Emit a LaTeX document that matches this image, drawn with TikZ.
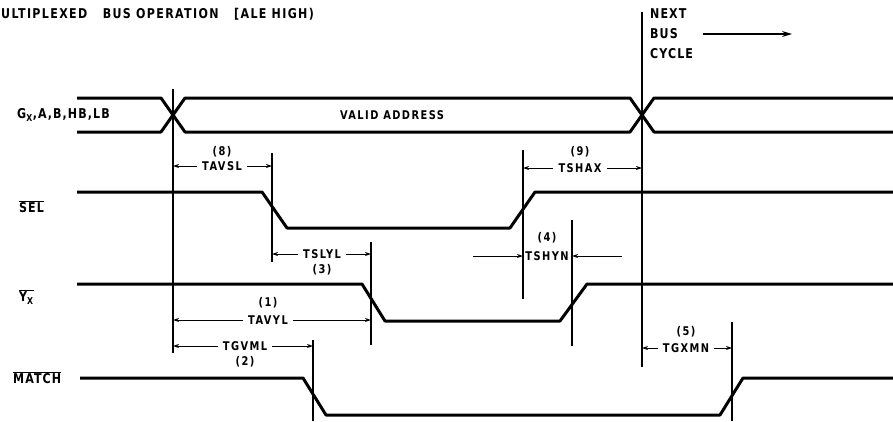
\documentclass[tikz,border=0pt]{standalone}
\usepackage{fontspec}
\setmainfont{DejaVu Sans}[FakeStretch=0.82]
\usetikzlibrary{arrows.meta}
\tikzset{
  sig/.style={line width=3pt, line join=round},
  vline/.style={line width=1.6pt},
  dim/.style={line width=0.9pt, -{Stealth[length=6pt,width=4pt]}},
  lbl/.style={font=\bfseries\fontsize{13.5}{14}\selectfont\addfontfeature{LetterSpace=8}, inner sep=1pt},
  sml/.style={font=\bfseries\fontsize{12}{13}\selectfont\addfontfeature{LetterSpace=12}, inner sep=1pt},
  big/.style={font=\bfseries\fontsize{13.5}{14}\selectfont\addfontfeature{LetterSpace=10}, inner sep=0pt}
}
\begin{document}
\begin{tikzpicture}[x=1pt,y=-1pt]
\useasboundingbox (0,0) rectangle (893,421);
% title
\node[big, anchor=west] (title) at (1,14) {ULTIPLEXED\ \ \ BUS OPERATION\ \ \ [ALE HIGH)};
% next bus cycle
\node[lbl, anchor=west] (nxt) at (649,14) {NEXT};
\node[lbl, anchor=west] (bus) at (649,34) {BUS};
\node[lbl, anchor=west] (cyc) at (649,54) {CYCLE};
\coordinate (arrS) at (703,34);
\coordinate (arrE) at (792,34);
\draw[line width=1.2pt, -{Stealth[length=10pt,width=6pt]}] (arrS) -- (arrE);
% signal labels
\node[lbl, anchor=west] (gx) at (16,115) {G\textsubscript{X},A,B,HB,LB};
\node[lbl, anchor=west] (sel) at (18,207) {$\overline{\mbox{SEL}}$};
\node[lbl, anchor=west] (yx) at (18,297) {$\overline{\mbox{Y\textsubscript{X}}}$};
\node[lbl, anchor=west] (match) at (12,378) {$\overline{\mbox{MATCH}}$};
\node[sml] (valid) at (392,115) {VALID ADDRESS};
% waveforms
\draw[sig] (77,98)--(161,98)--(185,132)--(630,132)--(654,98)--(893,98);
\draw[sig] (77,132)--(161,132)--(185,98)--(630,98)--(654,132)--(893,132);
\draw[sig] (77,192)--(262,192)--(287,228)--(510,228)--(535,192)--(893,192);
\draw[sig] (77,284)--(362,284)--(385,321)--(560,321)--(587,284)--(893,284);
\draw[sig] (80,378)--(303,378)--(326,415)--(720,415)--(743,378)--(893,378);
% vertical reference lines
\coordinate (v1t) at (173,89);  \coordinate (v1b) at (173,353);
\coordinate (v2t) at (272,153); \coordinate (v2b) at (272,262);
\coordinate (v3t) at (371,242); \coordinate (v3b) at (371,345);
\coordinate (v4t) at (523,150); \coordinate (v4b) at (523,299);
\coordinate (v5t) at (572,220); \coordinate (v5b) at (572,346);
\coordinate (v6t) at (642,12);  \coordinate (v6b) at (642,367);
\coordinate (v7t) at (313,340); \coordinate (v7b) at (313,421);
\coordinate (v8t) at (732,322); \coordinate (v8b) at (732,421);
\foreach \v in {1,...,8} {\draw[vline] (v\v t) -- (v\v b);}
% timing labels
\node[sml] (n8) at (222,152) {(8)};
\node[sml] (tavsl) at (222,166) {TAVSL};
\draw[dim,shorten <=4pt] (tavsl.west) -- (tavsl.west -| v1t);
\draw[dim,shorten <=4pt] (tavsl.east) -- (tavsl.east -| v2t);

\node[sml] (tslyl) at (322,254) {TSLYL};
\node[sml] (n3) at (322,270) {(3)};
\draw[dim,shorten <=4pt] (tslyl.west) -- (tslyl.west -| v2t);
\draw[dim,shorten <=4pt] (tslyl.east) -- (tslyl.east -| v3t);

\node[sml] (n1) at (268,303) {(1)};
\node[sml] (tavyl) at (268,320) {TAVYL};
\draw[dim,shorten <=4pt] (tavyl.west) -- (tavyl.west -| v1t);
\draw[dim,shorten <=4pt] (tavyl.east) -- (tavyl.east -| v3t);

\node[sml] (tgvml) at (245,346) {TGVML};
\node[sml] (n2) at (245,362) {(2)};
\draw[dim,shorten <=4pt] (tgvml.west) -- (tgvml.west -| v1t);
\draw[dim,shorten <=4pt] (tgvml.east) -- (tgvml.east -| v7t);

\node[sml] (n9) at (580,152) {(9)};
\node[sml] (tshax) at (580,168) {TSHAX};
\draw[dim,shorten <=4pt] (tshax.west) -- (tshax.west -| v4t);
\draw[dim,shorten <=4pt] (tshax.east) -- (tshax.east -| v6t);

\node[sml] (n4) at (547,238) {(4)};
\node[sml] (tshyn) at (547,256) {TSHYN};
\coordinate (hynL) at (473,256);
\coordinate (hynR) at (622,256);
\draw[dim] (hynL) -- (hynL -| v4t);
\draw[dim] (hynR) -- (hynR -| v5t);

\node[sml] (n5) at (686,332) {(5)};
\node[sml] (tgxmn) at (686,348) {TGXMN};
\draw[dim,shorten <=4pt] (tgxmn.west) -- (tgxmn.west -| v6t);
\draw[dim,shorten <=4pt] (tgxmn.east) -- (tgxmn.east -| v8t);
\end{tikzpicture}
\end{document}
